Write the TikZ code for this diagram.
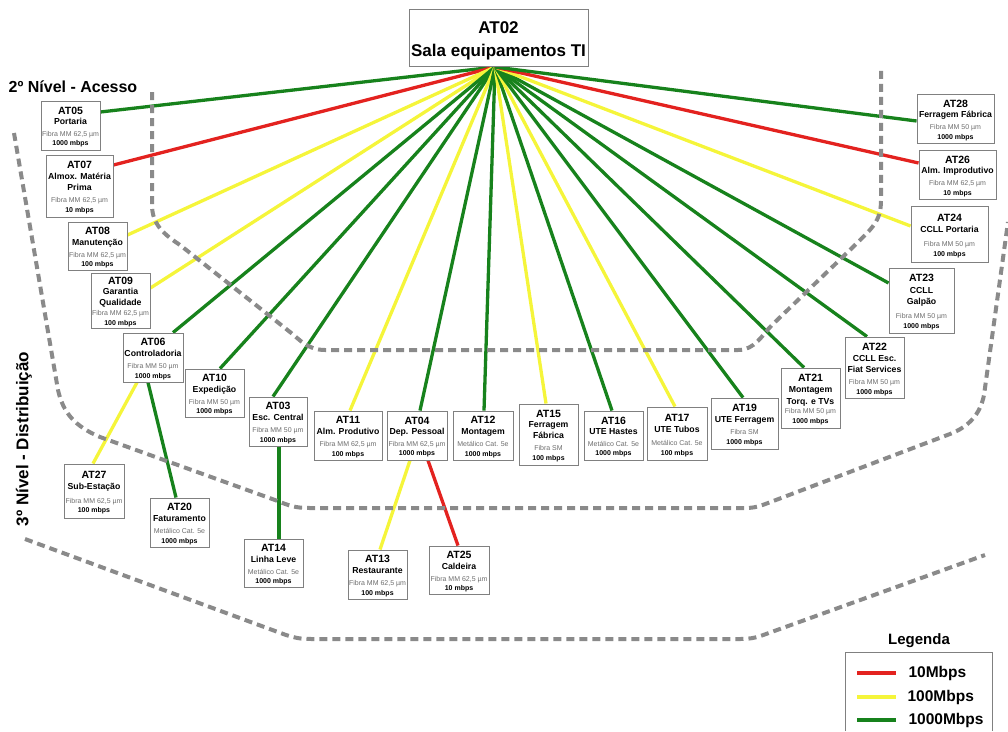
\documentclass[tikz,border=0pt]{standalone}
\usepackage{fontspec}
\setmainfont{Liberation Sans}
\usetikzlibrary{backgrounds}
\definecolor{lnred}{HTML}{E3221F}
\definecolor{lnyel}{HTML}{F5F53A}
\definecolor{lngrn}{HTML}{17821C}
\definecolor{dashgray}{HTML}{8A8A8A}
\definecolor{boxgray}{HTML}{808080}
\definecolor{txtgray}{HTML}{6E6E6E}
\newcommand\atid{\fontsize{10.5}{10}\selectfont\bfseries\rule{0pt}{10.5pt}}
\newcommand\atnm{\fontsize{8.7}{10}\selectfont\bfseries}
\newcommand\atmed{\fontsize{7}{10}\selectfont\color{txtgray}}
\newcommand\atspd{\fontsize{7}{10}\selectfont\bfseries}
\tikzset{
  atbox/.style={draw=boxgray, line width=0.9pt, fill=white, align=center, inner sep=1pt, font=\fontsize{7}{10}\selectfont},
  sz/.style 2 args={minimum width=#1pt, minimum height=#2pt},
  link/.style={line width=3.3pt},
  lred/.style={link, draw=lnred},
  lyel/.style={link, draw=lnyel},
  lgrn/.style={link, draw=lngrn},
  level/.style={draw=dashgray, line width=4pt, dash pattern=on 8pt off 5pt},
  lvltext/.style={font=\fontsize{16}{18}\selectfont\bfseries},
  legtext/.style={font=\fontsize{15.5}{18}\selectfont\bfseries, anchor=west}
}
\begin{document}
\begin{tikzpicture}[x=1pt,y=-1pt]
\useasboundingbox (0,0) rectangle (1008,731);

% central node
\node[atbox, sz={179}{57}, font=\fontsize{17}{23}\selectfont\bfseries] (at02) at (498.5,37.5) {\rule{0pt}{18pt}AT02\\Sala equipamentos TI};
\coordinate (hub) at (495,67);

% level labels
\node[lvltext] (lvl2) at (73,87) {2º Nível - Acesso};
\node[lvltext, font=\fontsize{17}{18}\selectfont\bfseries, rotate=90] (lvl3) at (24,439) {3º Nível - Distribuição};

% left column
\node[atbox, sz={59}{49}] (at05) at (70.5,125.5) {{\atid AT05}\\[0pt]{\atnm Portaria}\\[2pt]{\atmed Fibra MM 62,5 µm}\\[-0.5pt]{\atspd 1000 mbps}};
\node[atbox, sz={67}{62}] (at07) at (79.5,186) {{\atid AT07}\\[1pt]{\atnm Almox. Matéria}\\[1.5pt]{\atnm Prima}\\[2pt]{\atmed Fibra MM 62,5 µm}\\{\atspd 10 mbps}};
\node[atbox, sz={59}{48}] (at08) at (97.5,246) {{\atid AT08}\\[1pt]{\atnm Manutenção}\\[2pt]{\atmed Fibra MM 62,5 µm}\\[-0.5pt]{\atspd 100 mbps}};
\node[atbox, sz={59}{55}] (at09) at (120.5,300.5) {{\atid AT09}\\[-0.5pt]{\atnm Garantia}\\[1.5pt]{\atnm Qualidade}\\[0pt]{\atmed Fibra MM 62,5 µm}\\[-0.5pt]{\atspd 100 mbps}};
\node[atbox, sz={60}{49}] (at06) at (153,357.5) {{\atid AT06}\\[1pt]{\atnm Controladoria}\\[2pt]{\atmed Fibra MM 50 µm}\\[-0.5pt]{\atspd 1000 mbps}};
\node[atbox, sz={59}{48}] (at10) at (214.5,393) {{\atid AT10}\\[1pt]{\atnm Expedição}\\[2pt]{\atmed Fibra MM 50 µm}\\[-0.5pt]{\atspd 1000 mbps}};
\node[atbox, sz={58}{49}] (at03) at (278,421.5) {{\atid AT03}\\[1pt]{\atnm Esc. Central}\\[2pt]{\atmed Fibra MM 50 µm}\\[-0.5pt]{\atspd 1000 mbps}};

% bottom row
\node[atbox, sz={68}{49}] (at11) at (348,435.5) {{\atid AT11}\\[1pt]{\atnm Alm. Produtivo}\\[2pt]{\atmed Fibra MM 62,5 µm}\\[-0.5pt]{\atspd 100 mbps}};
\node[atbox, sz={60}{49}] (at04) at (417,435.5) {{\atid AT04}\\[0pt]{\atnm Dep. Pessoal}\\[2pt]{\atmed Fibra MM 62,5 µm}\\[-0.5pt]{\atspd 1000 mbps}};
\node[atbox, sz={60}{49}] (at12) at (483,435.5) {{\atid AT12}\\[1pt]{\atnm Montagem}\\[2pt]{\atmed Metálico Cat. 5e}\\[-0.5pt]{\atspd 1000 mbps}};
\node[atbox, sz={59}{61}] (at15) at (548.5,434.5) {{\atid AT15}\\[0pt]{\atnm Ferragem}\\[1.5pt]{\atnm Fábrica}\\[2pt]{\atmed Fibra SM}\\{\atspd 100 mbps}};
\node[atbox, sz={59}{49}] (at16) at (613.5,435.5) {{\atid AT16}\\[0pt]{\atnm UTE Hastes}\\[2pt]{\atmed Metálico Cat. 5e}\\[-0.5pt]{\atspd 1000 mbps}};
\node[atbox, sz={60}{53}] (at17) at (677,433.5) {{\atid AT17}\\[1pt]{\atnm UTE Tubos}\\[3pt]{\atmed Metálico Cat. 5e}\\{\atspd 100 mbps}};
\node[atbox, sz={67}{51}] (at19) at (744.5,423.5) {{\atid AT19}\\[1pt]{\atnm UTE Ferragem}\\[2pt]{\atmed Fibra SM}\\{\atspd 1000 mbps}};
\node[atbox, sz={59}{60}] (at21) at (810.5,398) {{\atid AT21}\\[1pt]{\atnm Montagem}\\[1.5pt]{\atnm Torq. e TVs}\\[-0.5pt]{\atmed Fibra MM 50 µm}\\[-0.5pt]{\atspd 1000 mbps}};
\node[atbox, sz={59}{61}] (at22) at (874.5,367.5) {{\atid AT22}\\[1pt]{\atnm CCLL Esc.}\\[1.5pt]{\atnm Fiat Services}\\[2pt]{\atmed Fibra MM 50 µm}\\[-0.5pt]{\atspd 1000 mbps}};

% right column
\node[atbox, sz={65}{65}] (at23) at (921.5,300.5) {{\atid AT23}\\[1.5pt]{\atnm CCLL}\\[1.5pt]{\atnm Galpão}\\[4pt]{\atmed Fibra MM 50 µm}\\[-0.5pt]{\atspd 1000 mbps}};
\node[atbox, sz={77}{56}] (at24) at (949.5,234) {{\atid AT24}\\[1pt]{\atnm CCLL Portaria}\\[4pt]{\atmed Fibra MM 50 µm}\\{\atspd 100 mbps}};
\node[atbox, sz={77}{49}] (at26) at (957.5,174.5) {{\atid AT26}\\[0.5pt]{\atnm Alm. Improdutivo}\\[2pt]{\atmed Fibra MM 62,5 µm}\\[-0.5pt]{\atspd 10 mbps}};
\node[atbox, sz={77}{49}] (at28) at (955.5,118.5) {{\atid AT28}\\[0.5pt]{\atnm Ferragem Fábrica}\\[2pt]{\atmed Fibra MM 50 µm}\\[-0.5pt]{\atspd 1000 mbps}};

% third level
\node[atbox, sz={60}{54}] (at27) at (94,491) {{\atid AT27}\\[1pt]{\atnm Sub-Estação}\\[4pt]{\atmed Fibra MM 62,5 µm}\\[-0.5pt]{\atspd 100 mbps}};
\node[atbox, sz={59}{49}] (at20) at (179.5,522.5) {{\atid AT20}\\[1pt]{\atnm Faturamento}\\[2pt]{\atmed Metálico Cat. 5e}\\[-0.5pt]{\atspd 1000 mbps}};
\node[atbox, sz={59}{48}] (at14) at (273.5,563) {{\atid AT14}\\[1pt]{\atnm Linha Leve}\\[2pt]{\atmed Metálico Cat. 5e}\\[-0.5pt]{\atspd 1000 mbps}};
\node[atbox, sz={59}{49}] (at13) at (377.5,574.5) {{\atid AT13}\\[1pt]{\atnm Restaurante}\\[2pt]{\atmed Fibra MM 62,5 µm}\\[-0.5pt]{\atspd 100 mbps}};
\node[atbox, sz={60}{48}] (at25) at (459,570) {{\atid AT25}\\[1pt]{\atnm Caldeira}\\[2pt]{\atmed Fibra MM 62,5 µm}\\[-0.5pt]{\atspd 10 mbps}};

% legend
\node[font=\fontsize{15}{18}\selectfont\bfseries] (legtitle) at (919,641) {Legenda};
\draw[draw=boxgray, line width=0.9pt] (845,731) -- (845,652) -- (992,652) -- (992,731);
\node[legtext] (leg10) at (905,673) {10Mbps};
\node[legtext] (leg100) at (904,697) {100Mbps};
\node[legtext] (leg1000) at (905,720) {1000Mbps};
\coordinate (lr1) at (857,673); \coordinate (lr2) at (896,673);
\coordinate (ly1) at (857,697); \coordinate (ly2) at (896,697);
\coordinate (lg1) at (857,720); \coordinate (lg2) at (896,720);
\draw[draw=lnred, line width=4pt] (lr1) -- (lr2);
\draw[draw=lnyel, line width=4pt] (ly1) -- (ly2);
\draw[draw=lngrn, line width=4pt] (lg1) -- (lg2);

\begin{scope}[on background layer]
% links from hub
\draw[lgrn] (hub) -- (at05.east |- 0,112);
\draw[lred] (hub) -- (at07.east |- 0,165);
\draw[lyel] (hub) -- (at08.east |- 0,235);
\draw[lyel] (hub) -- (at09.east |- 0,288);
\draw[lgrn] (hub) -- (at06.north -| 173,0);
\draw[lgrn] (hub) -- (at10.north -| 220,0);
\draw[lgrn] (hub) -- (at03.north -| 273,0);
\draw[lyel] (hub) -- (at11.north -| 350,0);
\draw[lgrn] (hub) -- (at04.north -| 420,0);
\draw[lgrn] (hub) -- (at12.north -| 484,0);
\draw[lyel] (hub) -- (at15.north -| 546,0);
\draw[lgrn] (hub) -- (at16.north -| 612,0);
\draw[lyel] (hub) -- (at17.north -| 675,0);
\draw[lgrn] (hub) -- (at19.north -| 743,0);
\draw[lgrn] (hub) -- (at21.north -| 804,0);
\draw[lgrn] (hub) -- (at22.north -| 867,0);
\draw[lgrn] (hub) -- (at23.west |- 0,283);
\draw[lyel] (hub) -- (at24.west |- 0,226);
\draw[lred] (hub) -- (at26.west |- 0,163);
\draw[lgrn] (hub) -- (at28.west |- 0,121);
% third level links
\draw[lyel] (at06.south -| 137,0) -- (at27.north -| 93,0);
\draw[lgrn] (at06.south -| 148,0) -- (at20.north -| 176,0);
\draw[lgrn] (at03.south -| 279,0) -- (at14.north -| 279,0);
\draw[lyel] (at04.south -| 410,0) -- (at13.north -| 380,0);
\draw[lred] (at04.south -| 428,0) -- (at25.north -| 458,0);
% level boundaries
\draw[level] (152,92) -- (152,205) .. controls (152,225) and (165,235) .. (180,245) -- (290,332) .. controls (300,340) and (308,350) .. (325,350) -- (738,350) .. controls (755,350) and (762,335) .. (772,325) -- (852,248) .. controls (872,228) and (881,222) .. (881,200) -- (881,68);
\draw[level] (14,133) -- (58,390) .. controls (63,412) and (74,426) .. (100,437) -- (275,500) .. controls (290,506) and (295,508) .. (310,508) -- (745,508) .. controls (755,508) and (760,506) .. (768,503) -- (950,434) .. controls (968,427) and (980,415) .. (984,395) -- (1008,222);
\draw[level] (25,539) -- (286,635) .. controls (296,638) and (300,639) .. (312,639) -- (740,639) .. controls (752,639) and (758,637) .. (766,634) -- (985,555);
\end{scope}
\end{tikzpicture}
\end{document}
